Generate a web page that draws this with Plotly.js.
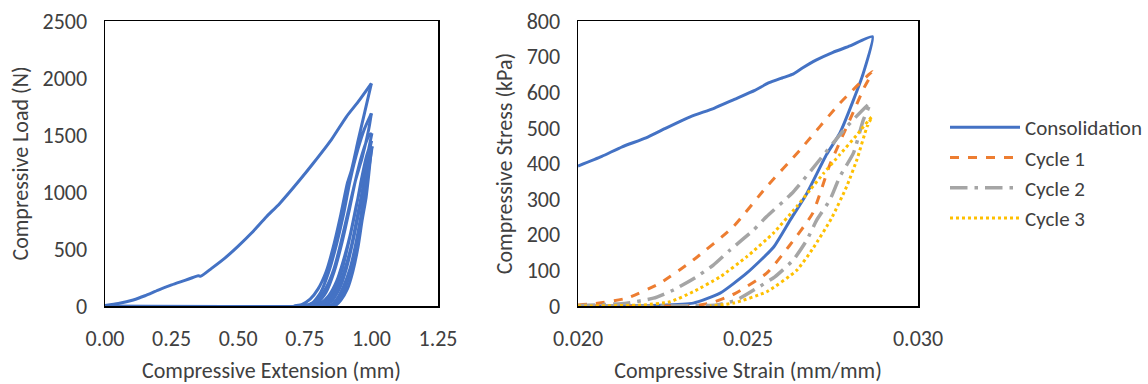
<!DOCTYPE html>
<html>
<head>
<meta charset="utf-8">
<script src="https://cdn.plot.ly/plotly-3.0.1.min.js"></script>
<style>html,body{margin:0;padding:0;background:#fff;}#chart{width:1148px;height:384px;}</style>
</head>
<body>
<div id="chart"></div>
<script>
// ---------- Left chart: load vs extension ----------
const extLoading  = [0, 0.05, 0.106, 0.15, 0.2, 0.25, 0.3, 0.33, 0.35, 0.36, 0.4, 0.45, 0.5, 0.55, 0.606, 0.656, 0.731, 0.781, 0.85, 0.906, 0.95, 1.0];
const loadLoading = [5, 22, 53, 90, 140, 185, 225, 250, 265, 262, 330, 420, 525, 640, 783, 900, 1105, 1250, 1460, 1660, 1790, 1953];

const loop1Ext  = [1.0, 0.975, 0.95, 0.925, 0.91, 0.885, 0.855, 0.83, 0.80, 0.77, 0.74, 0.71, 0.73, 0.75, 0.78, 0.81, 0.84, 0.87, 0.895, 0.92, 0.95, 0.975, 1.0];
const loop1Load = [1953, 1700, 1450, 1190, 1080, 800, 500, 300, 150, 60, 15, 0, 0, 3, 30, 120, 300, 550, 800, 1100, 1380, 1560, 1690];
const loop2Ext  = [1.0, 0.99, 0.965, 0.94, 0.915, 0.885, 0.86, 0.83, 0.80, 0.77, 0.745, 0.77, 0.80, 0.83, 0.86, 0.89, 0.915, 0.94, 0.965, 0.99, 1.002];
const loop2Load = [1690, 1550, 1300, 1100, 850, 550, 330, 160, 60, 15, 0, 0, 30, 120, 300, 560, 820, 1100, 1330, 1490, 1515];
const loop3Ext  = [1.002, 0.99, 0.97, 0.945, 0.92, 0.895, 0.87, 0.84, 0.81, 0.78, 0.80, 0.83, 0.86, 0.89, 0.915, 0.94, 0.96, 0.98, 1.0];
const loop3Load = [1515, 1380, 1150, 900, 620, 400, 220, 90, 25, 0, 0, 30, 130, 320, 560, 830, 1080, 1300, 1450];
const loop4Ext  = [1.0, 0.985, 0.965, 0.945, 0.925, 0.90, 0.875, 0.85, 0.82, 0.80, 0.82, 0.85, 0.88, 0.905, 0.93, 0.955, 0.975, 0.99, 1.003];
const loop4Load = [1450, 1250, 1000, 760, 530, 320, 160, 60, 10, 0, 0, 40, 150, 320, 560, 850, 1100, 1300, 1400];
const loop5Ext  = [1.003, 0.99, 0.975, 0.96, 0.94, 0.92, 0.895, 0.87, 0.85, 0.83, 0.845, 0.87, 0.895, 0.915, 0.935, 0.955, 0.97, 0.985, 1.0];
const loop5Load = [1400, 1200, 1000, 780, 530, 330, 170, 60, 10, 0, 0, 30, 120, 250, 430, 700, 950, 1200, 1380];
const finalExt  = [1.0, 0.99, 0.98, 0.965, 0.95, 0.93, 0.91, 0.885, 0.865, 0.855, 0];
const finalLoad = [1380, 1150, 950, 750, 520, 300, 150, 50, 5, 0, 0];

// ---------- Right chart: stress vs strain ----------
const consolStrain = [0.0200, 0.0207, 0.0213, 0.0220, 0.0226, 0.0233, 0.0240, 0.0246, 0.0252, 0.0256, 0.0260, 0.0263, 0.0266, 0.0270, 0.0275, 0.0280, 0.02866,
                      0.02839, 0.0281, 0.0277, 0.02731, 0.02673, 0.02624, 0.02575, 0.02496, 0.02418, 0.02339, 0.0224, 0.0205];
const consolStress = [393, 420, 447, 472, 500, 531, 555, 580, 605, 626, 640, 650, 668, 690, 712, 730, 756,
                      653, 578, 485, 425, 316, 241, 165, 92, 36, 8, 2, 0];

const cycle1Strain = [0.0200, 0.02045, 0.02143, 0.02241, 0.02339, 0.02457, 0.02555, 0.02653, 0.0277, 0.02866,
                      0.0284, 0.0281, 0.0277, 0.0274, 0.0269, 0.0262, 0.02555, 0.0246, 0.0239, 0.0234, 0.0200];
const cycle1Stress = [3, 6, 22, 64, 129, 223, 335, 438, 569, 658,
                      610, 545, 460, 395, 260, 167, 92, 34, 8, 1, 0];

const cycle2Strain = [0.0200, 0.02026, 0.02143, 0.02222, 0.02281, 0.02349, 0.02398, 0.02447, 0.02516, 0.02555, 0.02633, 0.02702, 0.0279, 0.02859,
                      0.02839, 0.0281, 0.0277, 0.02741, 0.02702, 0.02673, 0.02633, 0.02579, 0.02526, 0.02467, 0.02408, 0.0200];
const cycle2Stress = [1, 2, 8, 22, 45, 82, 115, 157, 213, 251, 320, 400, 503, 569,
                      522, 429, 363, 298, 241, 185, 129, 82, 50, 17, 3, 0];

const cycle3Strain = [0.0200, 0.0202, 0.02192, 0.02271, 0.02339, 0.02418, 0.02496, 0.02574, 0.02643, 0.02682, 0.02722, 0.0277, 0.0282, 0.02864,
                      0.0285, 0.0282, 0.0279, 0.02745, 0.0269, 0.02643, 0.02555, 0.02457, 0.02388];
const cycle3Stress = [0, 0, 3, 12, 40, 82, 138, 204, 279, 325, 372, 425, 480, 531,
                      503, 410, 335, 245, 160, 100, 40, 8, 0];

const legendNames = ['Consolidation', 'Cycle 1', 'Cycle 2', 'Cycle 3'];

const BLUE = '#4472C4', ORANGE = '#ED7D31', GRAY = '#A5A5A5', YELLOW = '#FFC000';
const FONT = 'Carlito, Calibri, Lato, sans-serif';
const TXT = '#404040';
const FS = 22;

function leftTrace(x, y) {
  return {x: x, y: y, xaxis: 'x', yaxis: 'y', mode: 'lines', type: 'scatter',
          line: {color: BLUE, width: 3, shape: 'spline', smoothing: 0.6}, showlegend: false, hoverinfo: 'skip'};
}
function rightLine(c, extra) {
  return Object.assign({color: c, width: 3, shape: 'spline', smoothing: 0.5}, extra || {});
}

const traces = [
  leftTrace(extLoading, loadLoading),
  leftTrace(loop1Ext, loop1Load),
  leftTrace(loop2Ext, loop2Load),
  leftTrace(loop3Ext, loop3Load),
  leftTrace(loop4Ext, loop4Load),
  leftTrace(loop5Ext, loop5Load),
  leftTrace(finalExt, finalLoad),
  {x: consolStrain, y: consolStress, xaxis: 'x2', yaxis: 'y2', mode: 'lines', name: legendNames[0],
   line: rightLine(BLUE)},
  {x: cycle1Strain, y: cycle1Stress, xaxis: 'x2', yaxis: 'y2', mode: 'lines', name: legendNames[1],
   line: rightLine(ORANGE, {dash: 'dash'})},
  {x: cycle2Strain, y: cycle2Stress, xaxis: 'x2', yaxis: 'y2', mode: 'lines', name: legendNames[2],
   line: rightLine(GRAY, {width: 3.5, dash: 'longdashdot'})},
  {x: cycle3Strain, y: cycle3Stress, xaxis: 'x2', yaxis: 'y2', mode: 'lines', name: legendNames[3],
   line: rightLine(YELLOW, {dash: 'dot'})}
];

const axisCommon = {
  showline: true, mirror: true, linecolor: '#000', linewidth: 1.5,
  showgrid: false, zeroline: false, ticks: '', layer: 'below traces',
  tickfont: {family: FONT, size: FS, color: TXT}, ticklabelstandoff: 12
};

const layout = {
  width: 1148, height: 384,
  margin: {l: 0, r: 0, t: 0, b: 0},
  paper_bgcolor: '#fff', plot_bgcolor: '#fff',
  font: {family: FONT, color: TXT, size: FS},
  xaxis: Object.assign({}, axisCommon, {
    domain: [105/1148, 438/1148], anchor: 'y', range: [0, 1.25], tickvals: [0, 0.25, 0.5, 0.75, 1.0, 1.25],
    tickformat: '.2f', title: {text: 'Compressive Extension (mm)', font: {family: FONT, size: FS, color: TXT}, standoff: 16}
  }),
  yaxis: Object.assign({}, axisCommon, {
    domain: [1 - 306/384, 1 - 21/384], anchor: 'x', range: [0, 2500], dtick: 500,
    title: {text: 'Compressive Load (N)', font: {family: FONT, size: FS, color: TXT}, standoff: 8}
  }),
  xaxis2: Object.assign({}, axisCommon, {
    domain: [578/1148, 918/1148], anchor: 'y2', range: [0.02, 0.03], tickvals: [0.02, 0.025, 0.03],
    tickformat: '.3f', title: {text: 'Compressive Strain (mm/mm)', font: {family: FONT, size: FS, color: TXT}, standoff: 16}
  }),
  yaxis2: Object.assign({}, axisCommon, {
    domain: [1 - 306/384, 1 - 21/384], anchor: 'x2', range: [0, 800], dtick: 100,
    title: {text: 'Compressive Stress (kPa)', font: {family: FONT, size: FS, color: TXT}, standoff: 8}
  }),
  showlegend: true,
  legend: {x: 945/1148, y: 1 - 107/384, xanchor: 'left', yanchor: 'top',
           font: {family: FONT, size: 21, color: TXT}, bgcolor: 'rgba(0,0,0,0)', itemwidth: 70, tracegroupgap: 0}
};

Plotly.newPlot('chart', traces, layout, {displayModeBar: false, staticPlot: true});
</script>
</body>
</html>
